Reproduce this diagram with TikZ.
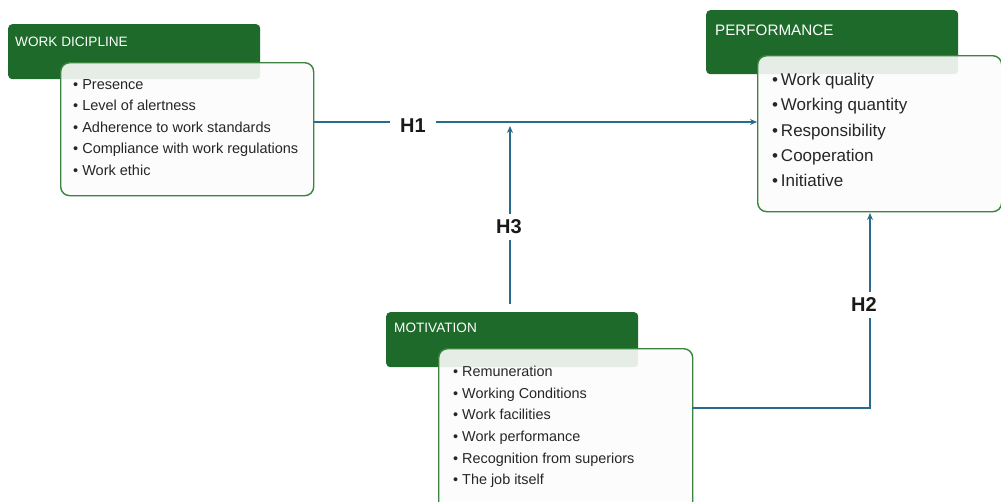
\documentclass[tikz,border=0pt]{standalone}
\usepackage{fontspec}
\setmainfont{Liberation Sans}
\usetikzlibrary{arrows.meta}
\definecolor{hdr}{RGB}{30,106,42}
\definecolor{bord}{RGB}{58,132,62}
\definecolor{arr}{RGB}{40,108,140}
\definecolor{bodyfill}{RGB}{252,252,252}
\tikzset{
  hdrbox/.style={draw=none, fill=hdr, rounded corners=4pt, anchor=north west, inner sep=0pt},
  hdrtext/.style={text=white, anchor=west, inner sep=0pt, font=\fontsize{13.6}{16}\selectfont},
  bodybox/.style={draw=bord, line width=1.4pt, fill=bodyfill, fill opacity=0.9, rounded corners=9pt, anchor=north west, inner sep=0pt},
  items/.style={anchor=north west, align=left, inner sep=0pt, text=black!85},
  conn/.style={draw=arr, line width=1.5pt},
  tip/.style={-{Stealth[length=7pt,width=6pt]}},
  hlabel/.style={fill=white, inner sep=3pt, font=\fontsize{20}{22}\selectfont\bfseries, text=black!90, minimum width=46pt, minimum height=26pt}
}
\begin{document}
\begin{tikzpicture}[x=1pt,y=-1pt]
\clip (0,0) rectangle (1001,501);
\fill[white] (0,0) rectangle (1001,501);

% WORK DISCIPLINE
\node[hdrbox, minimum width=252pt, minimum height=55pt] (wdh) at (8,24) {};
\node[hdrtext] (wdt) at (15,42) {WORK DICIPLINE};
\node[bodybox, minimum width=253pt, minimum height=133pt] (wdb) at (60,62) {};
\node[items, font=\fontsize{14.5}{21.5}\selectfont] (wdi) at (73,79) {%
• Presence\\
• Level of alertness\\
• Adherence to work standards\\
• Compliance with work regulations\\
• Work ethic};

% PERFORMANCE
\node[hdrbox, minimum width=252pt, minimum height=64pt] (pfh) at (706,10) {};
\node[hdrtext, font=\fontsize{15.2}{18}\selectfont] (pft) at (715,30) {PERFORMANCE};
\node[bodybox, minimum width=244pt, minimum height=156pt] (pfb) at (757,55) {};
\node[items, font=\fontsize{17}{25.25}\selectfont] (pfi) at (772,73) {%
•\,Work quality\\
•\,Working quantity\\
•\,Responsibility\\
•\,Cooperation\\
•\,Initiative};

% MOTIVATION
\node[hdrbox, minimum width=252pt, minimum height=55pt] (mvh) at (386,312) {};
\node[hdrtext] (mvt) at (394,328) {MOTIVATION};
\node[bodybox, minimum width=254pt, minimum height=162pt] (mvb) at (438,348) {};
\node[items, font=\fontsize{14.4}{21.6}\selectfont] (mvi) at (453,366) {%
• Remuneration\\
• Working Conditions\\
• Work facilities\\
• Work performance\\
• Recognition from superiors\\
• The job itself};

% connectors
\coordinate (h1y) at (0,122);
\draw[conn, tip] (wdb.east |- h1y) -- (pfb.west |- h1y);
\node[hlabel] (h1) at (413,126) {H1};

\coordinate (h3s) at (510,304);
\coordinate (h3e) at (510,126);
\draw[conn, tip] (h3s) -- (h3e);
\node[hlabel] (h3) at (509,227) {H3};

\coordinate (h2s) at (692,408);
\coordinate (h2c) at (870,408);
\coordinate (h2e) at (870,213);
\draw[conn, tip] (h2s) -- (h2c) -- (h2e);
\node[hlabel] (h2) at (864,305) {H2};
\end{tikzpicture}
\end{document}
